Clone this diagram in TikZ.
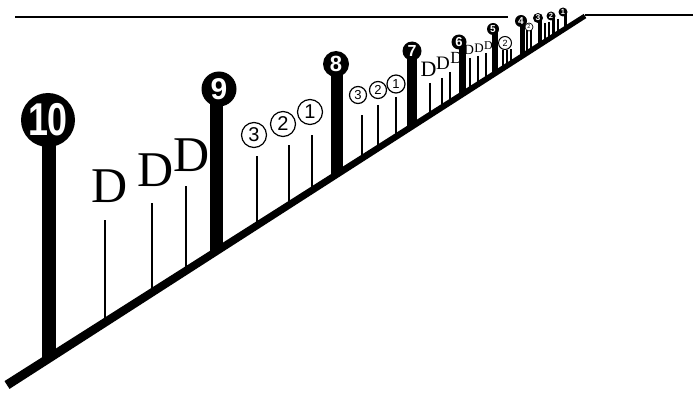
\documentclass[tikz,border=0pt]{standalone}
\usepackage{fontspec}
\setmainfont{Liberation Serif}
\setsansfont{Liberation Sans}
\usepackage{graphicx}

\begin{document}
\begin{tikzpicture}[
  x=1pt, y=-1pt,
  declare function={gy(\x)=385-0.638*(\x-7);},
  bigpost/.style={line width=#1pt},
  thinpost/.style={line width=#1pt},
  bignum/.style 2 args={circle, fill=black, text=white, inner sep=0pt,
                        minimum size=#1pt, font=\sffamily\bfseries\fontsize{#2}{#2}\selectfont},
  smallnum/.style 2 args={circle, draw=black, fill=white, line width=1.2pt, inner sep=0pt,
                          minimum size=#1pt, font=\sffamily\fontsize{#2}{#2}\selectfont},
  dsign/.style={inner sep=0pt, fill=white, font=\fontsize{#1}{#1}\selectfont}
]
\useasboundingbox (0,0) rectangle (695,393);

% horizon
\draw[line width=1.6pt] (15,17) -- (508,17);
\draw[line width=1.6pt] (585,15) -- (693,15);

% D signs
\node[dsign=50] (s1) at (109.5,186.5) {D};
\node[dsign=50] (s2) at (156,170) {D};
\node[dsign=50] (s3) at (191.5,155) {D};
\node[dsign=22] (s4) at (428.5,69) {D};
\node[dsign=19] (s5) at (443,63) {D};
\node[dsign=17] (s6) at (456.5,58) {D};
\node[dsign=14] (s7) at (469,50) {D};
\node[dsign=13] (s8) at (479,48) {D};
\node[dsign=12] (s9) at (488.5,46) {D};

% thin posts: x / top / width
\foreach \x/\t/\w in {105/220/1.8, 152/203/1.8, 186/186/1.8,
                      257/156/1.6, 289/145/1.6, 312/135/1.6,
                      362/115/1.5, 378/105/1.5, 396/97/1.5,
                      430/83/2.5, 442/78/2.5, 450/72/2.5,
                      470/58/2, 478/56/2, 486/53/2,
                      503/50/1.5, 507/50/1.5, 511/49/1.5,
                      527/30/1.5, 531/28/1.5, 545/23/1.5, 549/22/1.5, 558/19/1.5}
  \draw[thinpost=\w] (\x,\t) -- (\x,{gy(\x)});

% big posts: x / top / width
\foreach \x/\t/\w in {49/120/14, 216/89/13, 337/64/12, 412/51/10, 462/44/7,
                      495/30/6, 522/22/5, 540/19/4, 553/17/3, 565/13/3}
  \draw[bigpost=\w] (\x,\t) -- (\x,{gy(\x)});

% ground line
\fill (4.5,381.1) -- (583.7,13.9) -- (586.3,18.1) -- (9.5,388.9) -- cycle;

% numbered discs
\node[bignum={54}{46}] (n10) at (48,120) {\scalebox{0.78}[1]{10}};
\node[bignum={35}{30}] (n9) at (219,89) {9};
\node[bignum={26}{22}] (n8) at (336,64) {8};
\node[bignum={19}{16}] (n7) at (412,51) {7};
\node[bignum={15}{13}] (n6) at (459,42) {6};
\node[bignum={12}{10}] (n5) at (493,29) {5};
\node[bignum={12}{10}] (n4) at (521,21) {4};
\node[bignum={10}{8.5}] (n3) at (538,18) {3};
\node[bignum={9}{7.5}] (n2) at (551,16) {2};
\node[bignum={9}{7.5}] (n1) at (563,12) {1};

% small rings
\node[smallnum={25}{20}] (a3) at (254,135) {3};
\node[smallnum={25}{20}] (a2) at (283,124) {2};
\node[smallnum={25}{20}] (a1) at (310,112) {1};
\node[smallnum={17}{13}] (b3) at (358,95) {3};
\node[smallnum={17}{13}] (b2) at (378,90) {2};
\node[smallnum={18}{13}] (b1) at (396,84) {1};
\node[smallnum={13}{9}, line width=1pt] (c2) at (505,43) {2};
\node[smallnum={8}{5.5}, line width=0.7pt] (e2) at (529,27) {2};
\end{tikzpicture}
\end{document}
